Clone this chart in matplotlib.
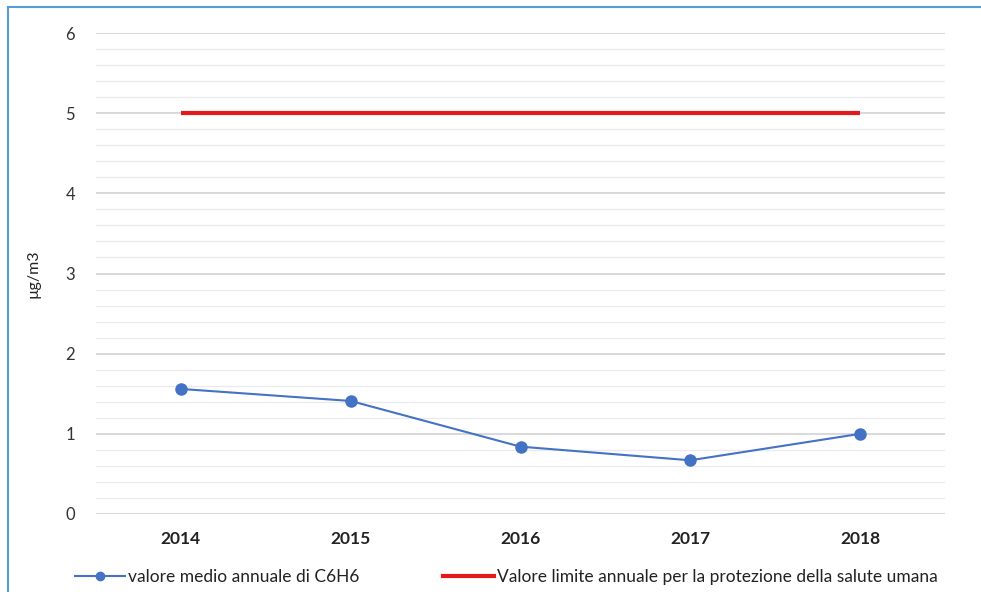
import matplotlib
matplotlib.use("Agg")
import matplotlib.pyplot as plt
from matplotlib.patches import Rectangle
from matplotlib.lines import Line2D
import numpy as np

plt.rcParams['font.family'] = ['Lato', 'DejaVu Sans']

years = ["2014", "2015", "2016", "2017", "2018"]
benzene = [1.56, 1.41, 0.84, 0.67, 1.00]
limit = [5, 5, 5, 5, 5]
series_names = ["valore medio annuale di C6H6",
                "Valore limite annuale per la protezione della salute umana"]

fig = plt.figure(figsize=(9.81, 5.92), dpi=100)
ax = fig.add_axes([96/981, 1-514/592, (945-96)/981, (514-33)/592])

x = np.arange(len(years))
ax.plot(x, benzene, color='#4472c4', lw=1.5, marker='o', ms=8, zorder=3)
ax.plot(x, limit, color='#e31a1c', lw=3, zorder=3, solid_capstyle='butt')

ax.set_xlim(-0.5, len(years) - 0.5)
ax.set_ylim(0, 6)
ax.set_yticks(range(0, 7))
ax.set_yticks(np.arange(0, 6.01, 0.2), minor=True)
ax.grid(axis='y', which='major', color='#d0d0d0', lw=1.1)
ax.grid(axis='y', which='minor', color='#ebebeb', lw=1.0)
ax.set_axisbelow(True)
for s in ax.spines.values():
    s.set_visible(False)
ax.tick_params(axis='both', which='both', length=0)
ax.tick_params(axis='y', labelsize=12, labelcolor='#333333', pad=15)
ax.set_xticks(x)
ax.set_xticklabels(years, fontsize=12.5, fontweight='bold', color='#222222')
ax.tick_params(axis='x', pad=12)
ax.set_ylabel("µg/m3", fontsize=11.5, color='#222222', labelpad=18)

handles = [Line2D([], [], color='#4472c4', lw=1.5, marker='o', ms=6),
           Line2D([], [], color='#e31a1c', lw=3)]
fig.legend(handles, series_names, loc='center', bbox_to_anchor=(0.516, 0.025),
           ncol=2, frameon=False, fontsize=12.5, handlelength=2.9,
           handletextpad=0.2, columnspacing=4.8, labelcolor='#222222')

fig.patches.append(Rectangle((8/981, -0.1), 1.2, 1 - 7/592 + 0.1,
                             transform=fig.transFigure, fill=False,
                             edgecolor='#5b9bd5', lw=1.5))

fig.savefig("out.png", dpi=100)
